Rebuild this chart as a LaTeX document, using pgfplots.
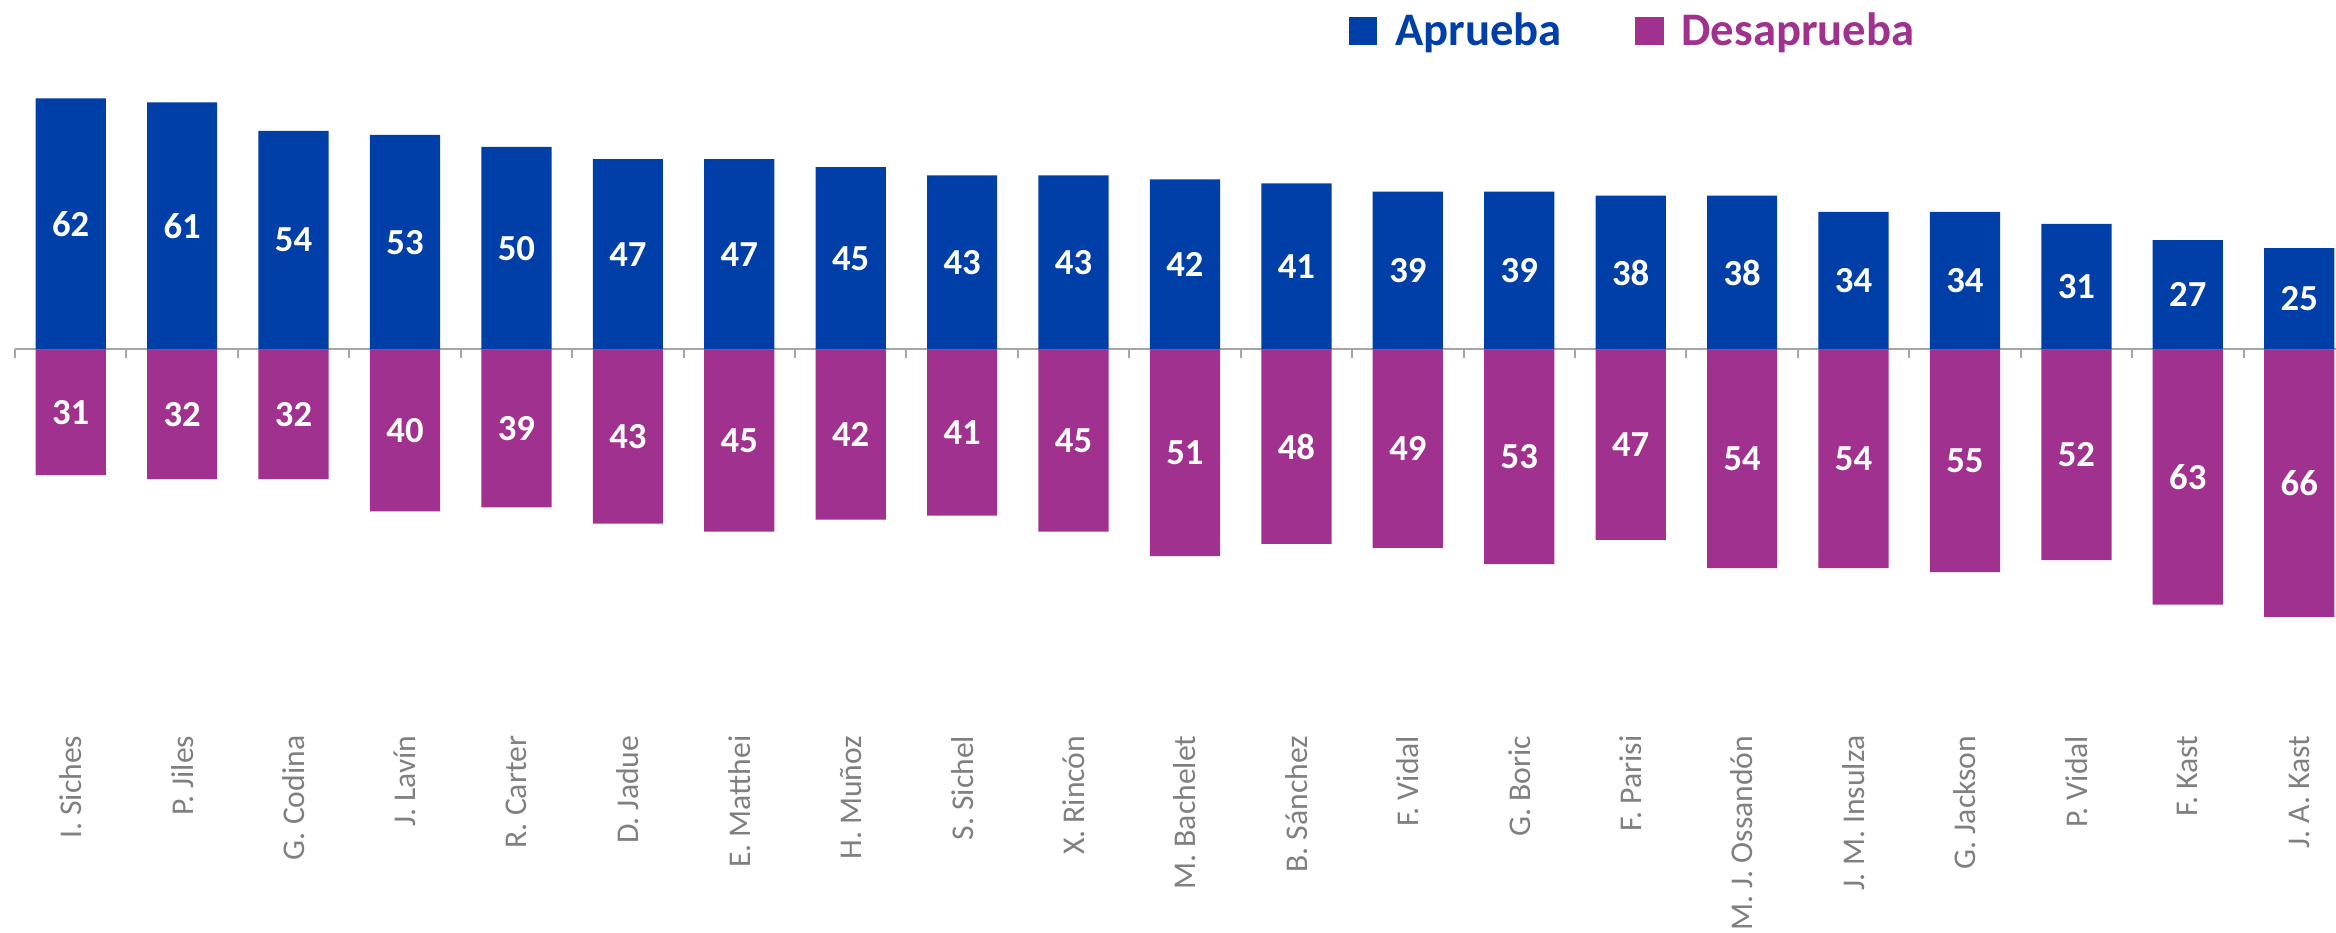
\documentclass[border=0pt]{standalone}
\usepackage{pgfplots}
\pgfplotsset{compat=1.18}
\usepackage{pgfplotstable}
\usepackage{fontspec}
\setmainfont{Carlito}
\definecolor{apr}{HTML}{003FA7}
\definecolor{des}{HTML}{A0318E}
\definecolor{lbl}{HTML}{808080}
\definecolor{axl}{HTML}{A6A6A6}
\pgfplotstableread{
x a d
0 62 31
1 61 32
2 54 32
3 53 40
4 50 39
5 47 43
6 47 45
7 45 42
8 43 41
9 43 45
10 42 51
11 41 48
12 39 49
13 39 53
14 38 47
15 38 54
16 34 54
17 34 55
18 31 52
19 27 63
20 25 66
}\data
\begin{document}
\begin{tikzpicture}
\useasboundingbox (0,0) rectangle (700.8pt,279.6pt);
\begin{axis}[
  at={(4.5pt,59.1pt)}, anchor=south west,
  scale only axis, width=696.3pt, height=200.7pt,
  xmin=-0.5, xmax=20.33, ymin=-95.2, ymax=70,
  axis y line=none, axis x line*=bottom, x axis line style={draw=none},
  xtick={0,...,20},
  xticklabels={I. Siches, P. Jiles, G. Codina, J. Lavín, R. Carter, D. Jadue, E. Matthei, H. Muñoz, S. Sichel, X. Rincón, M. Bachelet, B. Sánchez, F. Vidal, G. Boric, F. Parisi, M. J. Ossandón, J. M. Insulza, G. Jackson, P. Vidal, F. Kast, J. A. Kast},
  major tick length=0pt,
  xticklabel style={rotate=90, anchor=east, inner sep=0pt, font=\fontsize{9.5}{11}\selectfont, text=lbl},
  clip=false,
  legend columns=2,
  legend style={draw=none, fill=none, at={(0.698,1.052)}, anchor=center,
    font=\bfseries\fontsize{14}{17}\selectfont,
    /tikz/every even column/.append style={column sep=20pt}},
]
\draw[axl, line width=0.6pt] (axis cs:-0.5,0) -- (axis cs:20.33,0);
\pgfplotsinvokeforeach{-0.5,0.5,...,19.5}{
  \draw[axl, line width=0.6pt] (axis cs:#1,0) -- (axis cs:#1,-2.2);
}
\addlegendimage{legend image code/.code={\fill[apr] (-4.5pt,-4.05pt) rectangle (3.6pt,4.05pt); \path[draw=none,fill=none] (3.6pt,0pt) -- (7.2pt,0pt);}}
\addlegendentry{\textcolor{apr}{Aprueba}}
\addlegendimage{legend image code/.code={\fill[des] (-4.5pt,-4.05pt) rectangle (3.6pt,4.05pt); \path[draw=none,fill=none] (3.6pt,0pt) -- (7.2pt,0pt);}}
\addlegendentry{\textcolor{des}{Desaprueba}}
\addplot[ybar, bar width=0.63, bar shift=0pt, fill=apr, draw=none, forget plot] table[x=x, y=a] {\data};
\addplot[ybar, bar width=0.63, bar shift=0pt, fill=des, draw=none, forget plot] table[x=x, y expr=-\thisrow{d}] {\data};
\addplot[draw=none, mark=none, forget plot, point meta=explicit symbolic,
  nodes near coords={\pgfplotspointmeta},
  every node near coord/.append style={anchor=center, text=white, font=\bfseries\fontsize{11}{13}\selectfont}]
  table[x=x, y expr=\thisrow{a}/2, meta=a] {\data};
\addplot[draw=none, mark=none, forget plot, point meta=explicit symbolic,
  nodes near coords={\pgfplotspointmeta},
  every node near coord/.append style={anchor=center, text=white, font=\bfseries\fontsize{11}{13}\selectfont}]
  table[x=x, y expr=-\thisrow{d}/2, meta=d] {\data};
\end{axis}
\end{tikzpicture}
\end{document}
